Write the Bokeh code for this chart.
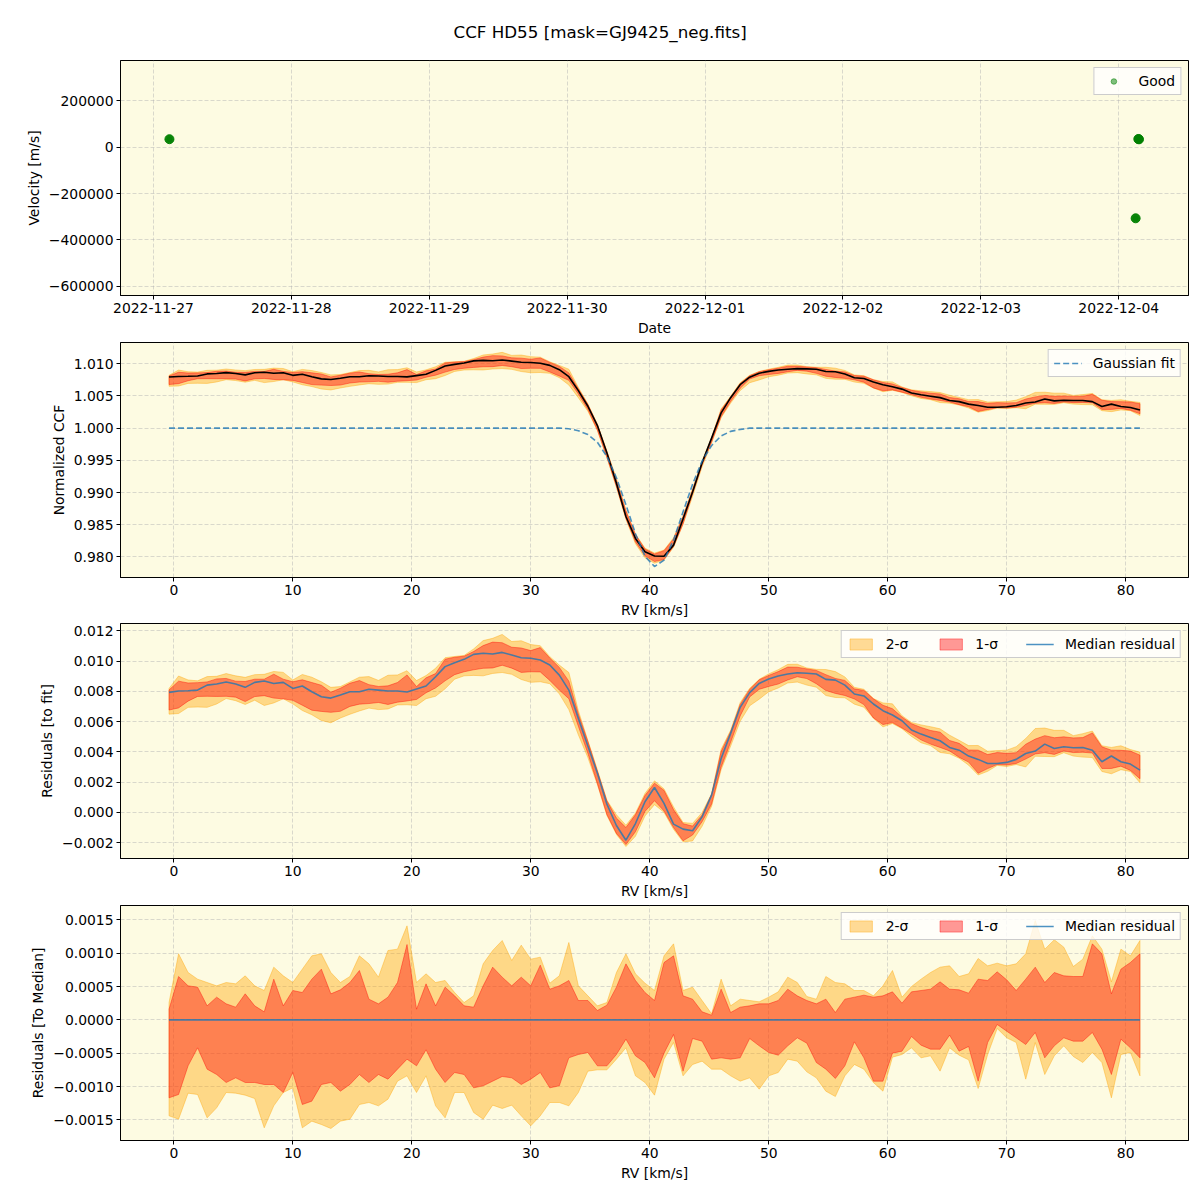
import numpy as np
import pandas as pd
from bokeh.plotting import figure
from bokeh.layouts import column
from bokeh.models import (Range1d, FixedTicker, CustomJSTickFormatter,
                          DatetimeTickFormatter, Legend, LegendItem)
from bokeh.embed import file_html
from bokeh.resources import INLINE

# ------------------------------------------------------------------ data
title_text = "CCF HD55 [mask=GJ9425_neg.fits]"

# panel 1 : velocities of the observations
obs_dates = ["2022-11-27 02:47", "2022-12-04 02:57", "2022-12-04 03:25", "2022-12-04 03:32"]
obs_rv = [34600, -307000, 35500, 34000]
date_ticks = ["2022-11-27", "2022-11-28", "2022-11-29", "2022-11-30",
              "2022-12-01", "2022-12-02", "2022-12-03", "2022-12-04"]
date_range = ["2022-11-26 18:16", "2022-12-04 12:09"]
vel_ticks = [-600000, -400000, -200000, 0, 200000]
vel_range = [-640400, 374400]

# RV grid [km/s]
rv = [-0.4, 0.4, 1.2, 2.0, 2.8, 3.6, 4.4, 5.2, 6.0, 6.8, 7.6, 8.4, 9.2, 10.0, 10.8,
      11.6, 12.4, 13.2, 14.0, 14.8, 15.6, 16.4, 17.2, 18.0, 18.8, 19.6, 20.4, 21.2,
      22.0, 22.8, 23.6, 24.4, 25.2, 26.0, 26.8, 27.6, 28.4, 29.2, 30.0, 30.8, 31.6,
      32.4, 33.2, 34.0, 34.8, 35.6, 36.4, 37.2, 38.0, 38.8, 39.6, 40.4, 41.2, 42.0,
      42.8, 43.6, 44.4, 45.2, 46.0, 46.8, 47.6, 48.4, 49.2, 50.0, 50.8, 51.6, 52.4,
      53.2, 54.0, 54.8, 55.6, 56.4, 57.2, 58.0, 58.8, 59.6, 60.4, 61.2, 62.0, 62.8,
      63.6, 64.4, 65.2, 66.0, 66.8, 67.6, 68.4, 69.2, 70.0, 70.8, 71.6, 72.4, 73.2,
      74.0, 74.8, 75.6, 76.4, 77.2, 78.0, 78.8, 79.6, 80.4, 81.2]

# Gaussian fit of the CCF
gauss_fit = ([1.0] * 42 +
             [0.9999, 0.9996, 0.9990, 0.9978, 0.9956, 0.9923, 0.9881, 0.9836, 0.9801,
              0.9785, 0.9795, 0.9826, 0.9870, 0.9913, 0.9949, 0.9973, 0.9988, 0.9995,
              0.9998] +
             [1.0] * 42)

# median residual to the fit [1e-3]
median_res = [7.94, 8.03, 8.05, 8.09, 8.42, 8.49, 8.62, 8.49, 8.27, 8.60,
              8.69, 8.53, 8.60, 8.20, 8.36, 7.98, 7.65, 7.56, 7.76, 7.98,
              7.98, 8.14, 8.09, 8.03, 8.03, 7.96, 8.16, 8.36, 8.97, 9.64,
              9.90, 10.12, 10.45, 10.52, 10.47, 10.58, 10.41, 10.23, 10.19, 10.08,
              9.75, 9.08, 8.09, 6.22, 4.40, 2.60, 0.55, -0.86, -1.83, -0.73,
              0.71, 1.65, 0.60, -0.77, -1.10, -1.21, -0.29, 1.15, 3.57, 5.23,
              6.95, 7.92, 8.53, 8.82, 9.02, 9.15, 9.24, 9.20, 9.15, 8.80,
              8.75, 8.42, 7.83, 7.70, 7.17, 6.73, 6.44, 6.06, 5.45, 5.18,
              4.96, 4.74, 4.30, 4.12, 3.73, 3.51, 3.24, 3.24, 3.31, 3.51,
              3.90, 4.06, 4.52, 4.23, 4.34, 4.28, 4.30, 4.12, 3.35, 3.73,
              3.35, 3.20, 2.80]

# band edges relative to the median [1e-4]
sig2_hi = [2.6, 9.9, 7.1, 6.1, 5.6, 5.1, 5.6, 5.4, 6.6, 5.1,
           4.4, 7.9, 6.6, 5.6, 7.6, 9.6, 9.9, 7.1, 5.6, 6.5,
           9.6, 8.4, 6.4, 10.4, 10.6, 14.1, 5.6, 6.9, 5.6, 5.9,
           4.1, 2.6, 3.6, 8.4, 10.4, 11.9, 8.9, 11.2, 9.1, 9.4,
           5.5, 6.6, 11.6, 5.1, 3.6, 2.1, 2.6, 7.1, 9.9, 6.9,
           5.5, 4.4, 9.6, 11.4, 4.4, 4.9, 2.9, 0.9, 6.1, 2.1,
           3.1, 2.9, 2.7, 3.4, 4.2, 6.4, 5.6, 3.5, 3.1, 6.5,
           5.6, 5.4, 4.4, 4.4, 3.6, 5.1, 7.4, 3.4, 5.0, 6.1,
           7.1, 7.9, 8.1, 6.5, 6.9, 9.2, 8.1, 8.5, 8.1, 8.4,
           9.9, 14.9, 10.6, 12.0, 10.9, 8.0, 9.1, 12.6, 10.6, 5.7,
           10.6, 9.6, 11.9]
sig1_hi = [1.6, 6.5, 5.1, 4.9, 2.1, 3.4, 2.4, 1.9, 3.9, 2.1,
           1.2, 6.1, 2.1, 4.4, 4.1, 6.1, 7.6, 3.9, 4.5, 5.6,
           7.4, 3.1, 2.4, 3.4, 5.6, 11.3, 1.6, 5.4, 2.1, 4.9,
           3.6, 2.1, 1.9, 5.1, 7.9, 6.4, 5.1, 6.4, 5.1, 8.2,
           4.6, 5.1, 5.9, 2.9, 2.9, 1.4, 2.2, 4.9, 8.4, 5.9,
           4.1, 2.9, 8.6, 9.6, 3.6, 3.1, 1.2, 0.7, 4.6, 1.1,
           1.9, 2.1, 2.4, 2.4, 2.9, 4.6, 3.6, 2.9, 2.4, 3.1,
           1.1, 3.1, 3.4, 3.7, 3.4, 3.6, 4.2, 2.5, 4.2, 4.4,
           4.6, 5.7, 4.6, 4.5, 4.0, 6.1, 5.9, 7.2, 6.0, 4.4,
           6.1, 7.9, 5.6, 7.1, 6.6, 6.5, 6.5, 11.4, 9.9, 3.9,
           7.6, 8.6, 9.9]
sig1_lo = [-11.7, -11.2, -6.9, -4.2, -7.4, -8.2, -9.4, -8.7, -9.4, -9.4,
           -9.7, -9.7, -10.9, -7.9, -12.7, -12.2, -9.7, -9.4, -10.7, -9.7,
           -8.2, -9.4, -8.2, -8.9, -7.4, -5.9, -6.9, -4.5, -7.4, -9.4,
           -7.9, -8.2, -10.2, -9.9, -9.2, -8.5, -8.7, -9.7, -8.9, -7.9,
           -10.2, -9.9, -5.7, -5.2, -4.9, -6.9, -6.9, -5.2, -2.9, -5.4,
           -6.4, -8.7, -5.0, -2.2, -7.7, -2.8, -3.2, -5.9, -5.7, -5.9,
           -5.7, -2.8, -3.9, -4.9, -5.3, -3.9, -2.7, -3.5, -6.4, -7.4,
           -8.8, -6.9, -3.3, -5.7, -9.2, -9.2, -5.0, -4.7, -2.5, -3.8,
           -4.4, -4.4, -2.3, -4.7, -4.0, -9.2, -3.4, -0.7, -1.7, -2.7,
           -3.7, -1.9, -5.7, -3.9, -2.7, -3.2, -3.2, -1.9, -4.4, -8.2,
           -2.9, -4.2, -5.7]
sig2_lo = [-14.4, -14.9, -11.0, -11.2, -14.7, -13.2, -10.9, -11.0, -11.3, -11.8,
           -16.2, -12.9, -10.9, -10.2, -16.2, -15.2, -15.7, -16.3, -15.2, -14.9,
           -12.7, -12.4, -12.9, -11.9, -9.2, -8.4, -10.9, -8.4, -12.9, -14.7,
           -10.9, -10.9, -13.9, -14.9, -12.8, -13.3, -12.8, -14.4, -15.9, -14.4,
           -12.4, -12.4, -12.9, -10.9, -7.7, -7.5, -7.5, -5.9, -4.2, -8.4,
           -9.4, -11.3, -5.9, -3.4, -8.4, -6.7, -6.2, -7.4, -7.4, -8.4,
           -9.2, -8.7, -10.4, -8.4, -7.9, -5.9, -6.2, -7.8, -8.7, -10.7,
           -11.5, -8.4, -6.7, -7.4, -9.4, -10.7, -5.6, -5.2, -4.2, -5.7,
           -5.4, -7.7, -4.2, -5.3, -6.0, -10.3, -5.2, -1.3, -2.7, -3.4,
           -8.9, -3.4, -8.2, -5.4, -3.9, -5.5, -6.4, -4.9, -6.4, -11.7,
           -5.2, -4.9, -8.4]

rv_ticks = [0, 10, 20, 30, 40, 50, 60, 70, 80]
rv_range = [-4.48, 85.28]
ccf_ticks = [0.980, 0.985, 0.990, 0.995, 1.000, 1.005, 1.010]
ccf_range = [0.9768, 1.0133]
res_ticks = [-0.002, 0.000, 0.002, 0.004, 0.006, 0.008, 0.010, 0.012]
res_range = [-0.00304, 0.01249]
med_ticks = [-0.0015, -0.0010, -0.0005, 0.0, 0.0005, 0.0010, 0.0015]
med_range = [-0.00181, 0.001715]

# ------------------------------------------------------------ derived
x = np.array(rv)
g = np.array(gauss_fit)
med = np.array(median_res) * 1e-3
d2h = np.array(sig2_hi) * 1e-4
d1h = np.array(sig1_hi) * 1e-4
d1l = np.array(sig1_lo) * 1e-4
d2l = np.array(sig2_lo) * 1e-4

# ------------------------------------------------------------ style
FONT = "DejaVu Sans"
FS = "13.9px"
BG = "#fdfbe2"
ORANGE = "#ffa500"
RED = "#ff0000"
BLUE = "#1f77b4"


def to_ms(s):
    return pd.Timestamp(s).value / 1e6


def fmt(decimals):
    return CustomJSTickFormatter(args=dict(d=decimals), code="""
        const s = Math.abs(tick).toFixed(d);
        return (tick < 0 && parseFloat(s) != 0 ? '\u2212' : '') + s;
    """)


def make_fig(xr, yr, top, bottom, x_axis_type="linear"):
    p = figure(frame_width=1068, frame_height=235, output_backend="svg",
               toolbar_location=None, tools="", x_axis_type=x_axis_type,
               x_range=Range1d(*xr), y_range=Range1d(*yr),
               min_border_left=120, min_border_right=12,
               min_border_top=top, min_border_bottom=bottom)
    p.background_fill_color = BG
    p.border_fill_color = "white"
    p.outline_line_color = "black"
    p.outline_line_width = 1
    p.outline_line_alpha = 1
    for ax in p.axis:
        ax.axis_line_color = "black"
        ax.major_tick_line_color = "black"
        ax.major_tick_out = 4
        ax.major_tick_in = 0
        ax.minor_tick_line_color = None
        ax.major_label_text_font = FONT
        ax.major_label_text_font_size = FS
        ax.major_label_text_color = "black"
        ax.axis_label_text_font = FONT
        ax.axis_label_text_font_size = FS
        ax.axis_label_text_font_style = "normal"
        ax.axis_label_text_color = "black"
        ax.major_label_standoff = 3
        ax.axis_label_standoff = 4
    for gr in p.grid:
        gr.grid_line_color = "#b0b0b0"
        gr.grid_line_alpha = 0.6
        gr.grid_line_dash = "4 2"
        gr.grid_line_width = 0.8
    return p


def style_legend(lg, horizontal=False):
    lg.location = "top_right"
    lg.orientation = "horizontal" if horizontal else "vertical"
    lg.label_text_font = FONT
    lg.label_text_font_size = FS
    lg.label_text_color = "black"
    lg.border_line_color = "#cccccc"
    lg.border_line_width = 1
    lg.border_line_alpha = 1
    lg.background_fill_color = "white"
    lg.background_fill_alpha = 0.8
    lg.padding = 5
    lg.margin = 7
    lg.glyph_width = 28
    lg.glyph_height = 14
    lg.label_height = 16
    lg.label_standoff = 11
    lg.spacing = 28


def band(p, lo, hi, color):
    xs = np.concatenate([x, x[::-1]])
    ys = np.concatenate([hi, lo[::-1]])
    return p.patch(xs, ys, fill_color=color, fill_alpha=0.4,
                   line_color=color, line_alpha=0.4, line_width=1)


def rv_axis(p):
    p.xaxis.ticker = FixedTicker(ticks=rv_ticks)
    p.xaxis.formatter = fmt(0)
    p.xaxis.axis_label = "RV [km/s]"


# ------------------------------------------------------------ panel 1
p1 = make_fig([to_ms(date_range[0]), to_ms(date_range[1])], vel_range, 60, 44,
              x_axis_type="datetime")
p1.title.text = title_text
p1.title.align = "left"
p1.title.offset = 333
p1.title.text_font = FONT
p1.title.text_font_size = "16.7px"
p1.title.text_font_style = "normal"
p1.title.text_color = "black"
p1.title.standoff = 38
p1.xaxis.ticker = FixedTicker(ticks=[to_ms(d) for d in date_ticks])
dfmt = "%Y-%m-%d"
p1.xaxis.formatter = DatetimeTickFormatter(
    milliseconds=dfmt, seconds=dfmt, minsec=dfmt, minutes=dfmt, hourmin=dfmt,
    hours=dfmt, days=dfmt, months=dfmt, years=dfmt)
p1.xaxis.axis_label = "Date"
p1.yaxis.ticker = FixedTicker(ticks=vel_ticks)
p1.yaxis.formatter = fmt(0)
p1.yaxis.axis_label = "Velocity [m/s]"
obs_x = [to_ms(d) for d in obs_dates]
# small faded copy (hidden under the dots) used as the legend handle
proxy = p1.scatter(obs_x, obs_rv, size=5, color="#008000", alpha=0.5)
p1.scatter(obs_x, obs_rv, size=9, color="#008000", alpha=0.95)
lg1 = Legend(items=[LegendItem(label="Good", renderers=[proxy])])
style_legend(lg1)
p1.add_layout(lg1)

# ------------------------------------------------------------ panel 2
p2 = make_fig(rv_range, ccf_range, 3, 43)
rv_axis(p2)
p2.yaxis.ticker = FixedTicker(ticks=ccf_ticks)
p2.yaxis.formatter = fmt(3)
p2.yaxis.axis_label = "Normalized CCF"
band(p2, g + med + d2l, g + med + d2h, ORANGE)
band(p2, g + med + d1l, g + med + d1h, RED)
p2.line(x, g + med, line_color="black", line_width=1.6)
rg = p2.line(x, g, line_color=BLUE, line_alpha=0.8, line_width=1.6,
             line_dash="6 3")
lg2 = Legend(items=[LegendItem(label="Gaussian fit", renderers=[rg])])
style_legend(lg2)
p2.add_layout(lg2)

# ------------------------------------------------------------ panel 3
p3 = make_fig(rv_range, res_range, 3, 44)
rv_axis(p3)
p3.yaxis.ticker = FixedTicker(ticks=res_ticks)
p3.yaxis.formatter = fmt(3)
p3.yaxis.axis_label = "Residuals [to fit]"
r32 = band(p3, med + d2l, med + d2h, ORANGE)
r31 = band(p3, med + d1l, med + d1h, RED)
r3m = p3.line(x, med, line_color=BLUE, line_alpha=0.8, line_width=1.6)
lg3 = Legend(items=[LegendItem(label="2-σ", renderers=[r32]),
                    LegendItem(label="1-σ", renderers=[r31]),
                    LegendItem(label="Median residual", renderers=[r3m])])
style_legend(lg3, horizontal=True)
p3.add_layout(lg3)

# ------------------------------------------------------------ panel 4
p4 = make_fig(rv_range, med_range, 3, 50)
rv_axis(p4)
p4.yaxis.ticker = FixedTicker(ticks=med_ticks)
p4.yaxis.formatter = fmt(4)
p4.yaxis.axis_label = "Residuals [To Median]"
r42 = band(p4, d2l, d2h, ORANGE)
r41 = band(p4, d1l, d1h, RED)
r4m = p4.line(x, med - med, line_color=BLUE, line_alpha=0.8, line_width=1.6)
lg4 = Legend(items=[LegendItem(label="2-σ", renderers=[r42]),
                    LegendItem(label="1-σ", renderers=[r41]),
                    LegendItem(label="Median residual", renderers=[r4m])])
style_legend(lg4, horizontal=True)
p4.add_layout(lg4)

layout = column(p1, p2, p3, p4, spacing=0)
open("out.html", "w").write(file_html(layout, INLINE))
